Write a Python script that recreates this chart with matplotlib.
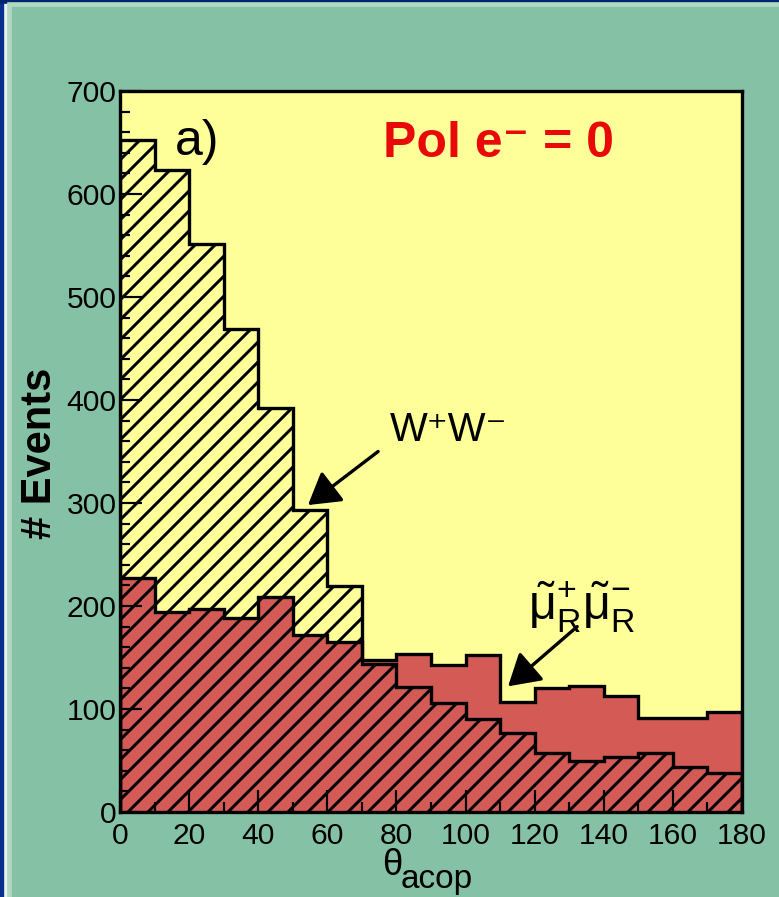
import numpy as np
import matplotlib
matplotlib.use("Agg")
import matplotlib.pyplot as plt
from matplotlib import font_manager
from matplotlib.patches import Rectangle
from matplotlib.ticker import MultipleLocator

# histogram contents, 10 degree bins from 0 to 180
edges = np.arange(0, 190, 10)
ww = [652, 623, 551, 469, 392, 293, 219, 144, 121, 106, 90, 77, 57, 50, 53, 57, 44, 38]
smuon = [227, 194, 197, 188, 209, 172, 165, 148, 153, 143, 152, 107, 120, 122, 113, 91, 91, 97]
xticks = [0, 20, 40, 60, 80, 100, 120, 140, 160, 180]
yticks = [0, 100, 200, 300, 400, 500, 600, 700]

names = {f.name for f in font_manager.fontManager.ttflist}
narrow = 'Liberation Sans Narrow' if 'Liberation Sans Narrow' in names else 'Liberation Sans'

plt.rcParams['font.family'] = [narrow, 'DejaVu Sans']
plt.rcParams['mathtext.fontset'] = 'custom'
plt.rcParams['mathtext.rm'] = 'Liberation Sans'
plt.rcParams['mathtext.it'] = 'Liberation Sans'
plt.rcParams['mathtext.bf'] = 'Liberation Sans:bold'
plt.rcParams['hatch.linewidth'] = 1.8

green = '#85C2A5'
yellow = '#FFFF99'
red = '#D45A55'
sans = ['Liberation Sans', 'DejaVu Sans']

W, H = 779, 897
fig = plt.figure(figsize=(W / 120, H / 120), dpi=120, facecolor=green)

# window frame
fig.patches.append(Rectangle((0, 0), 5 / W, 1, transform=fig.transFigure, color='#06308E', zorder=0))
fig.patches.append(Rectangle((5 / W, 0), 3 / W, 1 - 3 / H, transform=fig.transFigure, color='#E8F2EC', zorder=0))
fig.patches.append(Rectangle((8 / W, 0), 3 / W, 1 - 6 / H, transform=fig.transFigure, color='#B2D8C4', zorder=0))
fig.patches.append(Rectangle((0, 1 - 3 / H), 1, 3 / H, transform=fig.transFigure, color='#03246E', zorder=0))
fig.patches.append(Rectangle((8 / W, 1 - 6 / H), 1, 3 / H, transform=fig.transFigure, color='#B2D8C4', zorder=0))

ax = fig.add_axes([120 / W, 85 / H, 622 / W, 721 / H])
ax.set_facecolor(yellow)

ax.bar(edges[:-1], smuon, width=10, align='edge', color=red, linewidth=0, zorder=1)
ax.bar(edges[:-1], ww, width=10, align='edge', facecolor='none', edgecolor='black',
       hatch='//', linewidth=0, zorder=2)
ax.stairs(smuon, edges, color='black', linewidth=2, zorder=3)
ax.stairs(ww, edges, color='black', linewidth=2, zorder=3)

ax.set_xlim(0, 180)
ax.set_ylim(0, 700)
ax.set_xticks(xticks)
ax.set_yticks(yticks)
ax.xaxis.set_minor_locator(MultipleLocator(10))
ax.yaxis.set_minor_locator(MultipleLocator(20))
ax.tick_params(which='both', direction='in', width=1.3, top=False, right=False)
ax.tick_params(which='major', length=13)
ax.tick_params(which='minor', length=6)
ax.tick_params(axis='x', labelsize=18, pad=6)
ax.tick_params(axis='y', labelsize=18, pad=2)
for s in ax.spines.values():
    s.set_linewidth(2)
    s.set_zorder(4)

ax.text(16, 638, 'a)', fontsize=30, family=sans, va='baseline', zorder=5)
ax.text(76, 636, 'Pol e\u207b = 0', fontsize=30, family=sans, weight='bold',
        color='#E80A0A', va='baseline', zorder=5)
ax.text(78, 360, 'W\u207aW\u207b', fontsize=24, family=sans, va='baseline', zorder=5)
ax.text(118, 186, r'$\tilde{\mu}^{+}_{\mathrm{R}}\tilde{\mu}^{-}_{\mathrm{R}}$', fontsize=29,
        va='baseline', zorder=5)

arrow = dict(arrowstyle='-|>,head_length=0.5,head_width=0.3', mutation_scale=32, lw=2,
             color='black', shrinkA=0, shrinkB=0)
ax.annotate('', xy=(54.4, 298), xytext=(74.7, 350), arrowprops=arrow, zorder=5)
ax.annotate('', xy=(112.3, 122), xytext=(132.3, 180), arrowprops=arrow, zorder=5)

fig.text(40 / W, 1 - 453 / H, '# Events', rotation=90, fontsize=25, family=sans,
         weight='bold', ha='center', va='center')
fig.text(382 / W, 1 - 875 / H, r'$\theta$', fontsize=22, ha='left', va='baseline')
fig.text(401 / W, 1 - 888 / H, 'acop', fontsize=20, ha='left', va='baseline')

fig.savefig('out.png', dpi=120, facecolor=green)
